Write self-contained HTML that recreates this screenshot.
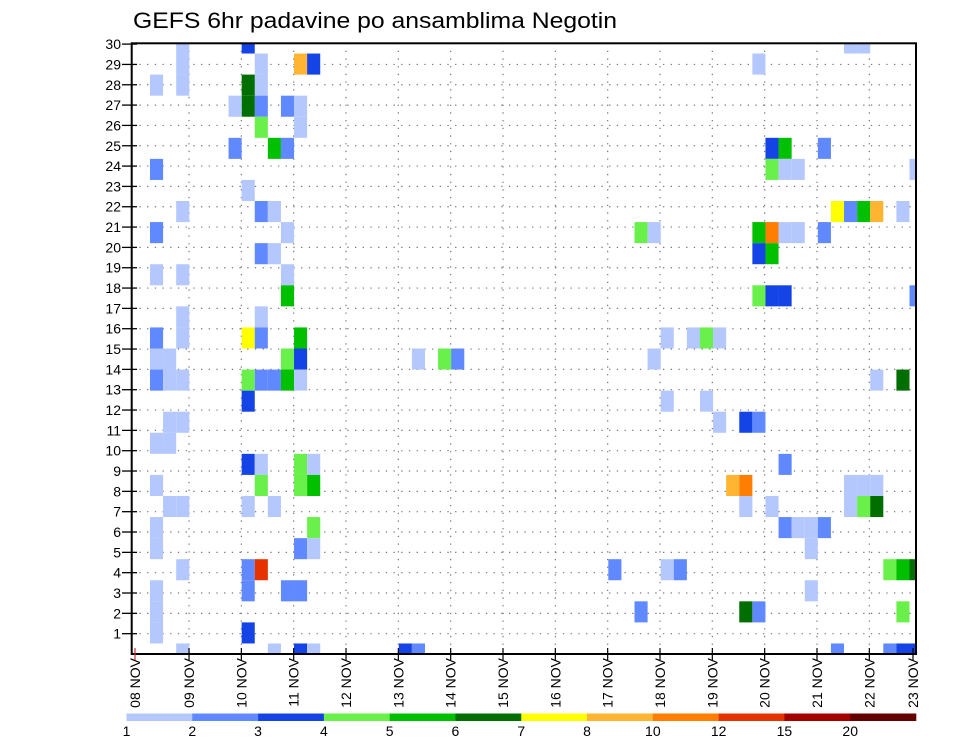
<!DOCTYPE html>
<html><head><meta charset="utf-8"><style>
html,body{margin:0;padding:0;background:#fff;}
svg{display:block;font-family:"Liberation Sans",sans-serif;}
</style></head><body>
<svg id="chart" width="960" height="742" viewBox="0 0 960 742" xmlns="http://www.w3.org/2000/svg">
<text x="133" y="28" font-size="22" textLength="484" lengthAdjust="spacingAndGlyphs" fill="#000">GEFS 6hr padavine po ansamblima Negotin</text>
<defs><clipPath id="plotclip"><rect x="131.7" y="43.3" width="784.3" height="610.7"/></clipPath></defs>
<g id="grid"></g>
<g id="cells" clip-path="url(#plotclip)"></g>
<rect x="131.7" y="43.3" width="784.3" height="610.7" fill="none" stroke="#000" stroke-width="2"/>
<g id="yaxis"></g>
<g id="xaxis"></g>
<g id="legend"></g>
</svg>
<script>
// categories / data
const dayLabels = ["08 NOV","09 NOV","10 NOV","11 NOV","12 NOV","13 NOV","14 NOV","15 NOV","16 NOV","17 NOV","18 NOV","19 NOV","20 NOV","21 NOV","22 NOV","23 NOV"];
const memberTicks = [1,2,3,4,5,6,7,8,9,10,11,12,13,14,15,16,17,18,19,20,21,22,23,24,25,26,27,28,29,30];
const legendLevels = [1,2,3,4,5,6,7,8,10,12,15,20];
const legendColors = ["#b4c8fe","#6088ff","#1444e6","#6af04a","#00c000","#006e00","#ffff00","#ffb432","#ff7d00","#e63200","#a50000","#640000"];
// cells: step index (6h), member row, precipitation value
const cellSteps = [3,3,3,1,8,9,9,9,8,8,12,13,7,11,12,12,9,7,10,11,1,8,3,9,10,1,11,9,10,1,3,11,11,3,9,8,9,1,3,12,1,2,11,12,1,2,3,8,9,10,11,12,8,2,3,1,2,8,9,12,13,1,9,12,13,2,3,8,10,1,13,1,12,13,3,8,9,1,8,11,12,1,1,8,3,10,12,13,
21,23,24,20,21,36,38,39,39,40,42,43,44,40,43,44,38,40,41,
54,55,47,48,49,52,48,49,50,59,53,54,55,56,58,47,48,49,50,52,47,48,47,48,49,59,56,58,46,47,49,45,46,46,48,54,55,56,54,55,56,49,50,51,52,51,57,58,59,51,46,47,58,53,57,58,59];
const cellMembers = [29,28,27,27,29,28,27,26,27,26,28,28,26,26,26,25,25,24,24,24,23,22,21,21,21,20,20,19,19,18,18,18,17,16,16,15,15,15,15,15,14,14,14,14,13,13,13,13,13,13,13,13,12,11,11,10,10,9,9,9,9,8,8,8,8,7,7,7,7,6,6,5,5,5,4,4,4,3,3,3,3,2,1,1,0,0,0,0,
14,14,14,0,0,4,20,20,14,15,15,15,15,12,12,11,2,4,4,
29,29,28,24,24,24,23,23,23,23,21,21,21,21,21,20,20,20,20,20,19,19,17,17,17,17,13,13,11,11,9,8,8,7,7,8,8,8,7,7,7,6,6,6,6,5,4,4,4,3,2,2,2,0,0,0,0];
const cellValues = [1.5,1.5,1.5,1.5,3.5,1.5,1.5,2.5,6.5,6.5,9,3.5,1.5,2.5,1.5,1.5,4.5,2.5,5.5,2.5,2.5,1.5,1.5,2.5,1.5,2.5,1.5,2.5,1.5,1.5,1.5,1.5,5.5,1.5,1.5,7.5,2.5,2.5,1.5,5.5,1.5,1.5,4.5,3.5,2.5,1.5,1.5,4.5,2.5,2.5,5.5,1.5,3.5,1.5,1.5,1.5,1.5,3.5,1.5,4.5,1.5,1.5,4.5,4.5,5.5,1.5,1.5,1.5,1.5,1.5,4.5,1.5,2.5,1.5,1.5,2.5,13,1.5,2.5,2.5,2.5,1.5,1.5,3.5,1.5,1.5,3.5,1.5,
1.5,4.5,2.5,3.5,2.5,2.5,4.5,1.5,1.5,1.5,1.5,4.5,1.5,1.5,1.5,1.5,2.5,1.5,2.5,
1.5,1.5,1.5,3.5,5.5,2.5,4.5,1.5,1.5,1.5,7.5,2.5,5.5,9,1.5,5.5,11,1.5,1.5,2.5,3.5,5.5,4.5,3.5,3.5,2.5,1.5,6.5,3.5,2.5,2.5,9,11,1.5,1.5,1.5,1.5,1.5,1.5,4.5,6.5,2.5,1.5,1.5,2.5,1.5,4.5,5.5,6.5,1.5,6.5,2.5,4.5,2.5,2.5,3.5,3.5];

const NS="http://www.w3.org/2000/svg";
const X0=136.9, CW=13.095, YB=654, RH=611/29, PL=131.7, PR=916;
function xScale(step){return X0+step*CW;}
function yScale(member){return YB-member*RH;}
function dayX(d){return 136.7+52.33*d;}
function tickY(k){return 654-k*20.33;}
function colorFor(v){let c=legendColors[0];for(let i=0;i<legendLevels.length;i++){if(v>=legendLevels[i])c=legendColors[i];}return c;}
function mk(tag,attrs,parent){const e=document.createElementNS(NS,tag);for(const k in attrs)e.setAttribute(k,attrs[k]);parent.appendChild(e);return e;}

const grid=document.getElementById('grid');
for(let k=1;k<30;k++){
  const l=mk('line',{x1:PL,x2:PR,y1:tickY(k),y2:tickY(k),stroke:'#777','stroke-width':1.2,'stroke-dasharray':'1.3 6.4'},grid);
  
  
}
for(let d=1;d<15;d++){
  const l=mk('line',{x1:dayX(d),x2:dayX(d),y1:43,y2:654,stroke:'#777','stroke-width':1.2,'stroke-dasharray':'1.3 6.4'},grid);
  
  
}

const cells=document.getElementById('cells');
for(let i=0;i<cellSteps.length;i++){
  const x=xScale(cellSteps[i]), yc=yScale(cellMembers[i]);
  const r=mk('rect',{x:x,y:yc-RH/2,width:CW,height:RH,fill:colorFor(cellValues[i])},cells);
  
  
}

const ya=document.getElementById('yaxis');
memberTicks.forEach(k=>{
  const y=tickY(k);
  const t=mk('line',{x1:122,x2:137,y1:y,y2:y,stroke:'#000','stroke-width':1.3},ya);
  
  
  const tx=mk('text',{x:121,y:y+5,'font-size':14,'text-anchor':'end',fill:'#000'},ya);
  tx.textContent=k;
  
  
});

const xa=document.getElementById('xaxis');
dayLabels.forEach((lab,d)=>{
  let x=dayX(d); if(d===0)x=135; if(x>914)x=913;
  const t=mk('line',{x1:x,x2:x,y1:648,y2:660,stroke:d===0?'#c33':'#000','stroke-width':1.2},xa);
  
  
  const tx=mk('text',{x:0,y:0,'font-size':14,'text-anchor':'end',fill:'#000',transform:`translate(${x+5},658) rotate(-90)`},xa);
  tx.textContent=lab;
  
  
});

const lg=document.getElementById('legend');
const LW=(916-126.5)/legendColors.length;
legendColors.forEach((c,i)=>{
  const r=mk('rect',{x:126.5+i*LW,y:713.5,width:LW+0.3,height:7.5,fill:c},lg);
  
  
});
legendLevels.forEach((v,i)=>{
  const tx=mk('text',{x:126.5+i*LW,y:736,'font-size':14,'text-anchor':'middle',fill:'#000'},lg);
  tx.textContent=v;
  
  
});
</script>
</body></html>
